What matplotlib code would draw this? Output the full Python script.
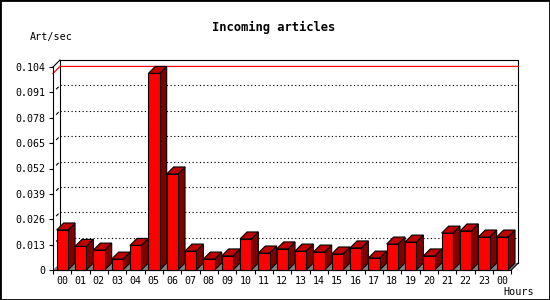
import numpy as np
import matplotlib
matplotlib.use("Agg")
import matplotlib.pyplot as plt
from matplotlib.patches import Polygon, Rectangle

# ── Data ────────────────────────────────────────────────────────────────────
hours = ["00", "01", "02", "03", "04", "05", "06", "07", "08", "09", "10", "11",
         "12", "13", "14", "15", "16", "17", "18", "19", "20", "21", "22", "23", "00"]
art_per_sec = [0.0205, 0.0121, 0.0102, 0.0056, 0.0126, 0.1007, 0.0492, 0.0097,
               0.0056, 0.0072, 0.0159, 0.0087, 0.0108, 0.0097, 0.0092, 0.0082,
               0.0113, 0.0061, 0.0133, 0.0143, 0.0072, 0.0189, 0.0200, 0.0169,
               0.0169]
yticks = [0, 0.013, 0.026, 0.039, 0.052, 0.065, 0.078, 0.091, 0.104]

# ── Layout (pixels) ─────────────────────────────────────────────────────────
W, H = 550, 300
X0, X1 = 53, 511.3          # front plane left/right
Y0, Y1 = 270, 67            # zero line / top value
DEPTH = 7                   # 3D depth in px
FONT = "DejaVu Sans Mono"

n = len(hours)
ymax = yticks[-1]
dx = DEPTH / ((X1 - X0) / n)
dy = DEPTH / (Y0 - Y1) * ymax

fig = plt.figure(figsize=(W / 100, H / 100), dpi=100)
fig.patch.set_facecolor("white")
ax = fig.add_axes([X0 / W, (H - Y0) / H, (X1 - X0) / W, (Y0 - Y1) / H])
ax.set_xlim(0, n)
ax.set_ylim(0, ymax)
ax.set_facecolor("none")

for s in ("top", "right"):
    ax.spines[s].set_visible(False)
for s in ("left", "bottom"):
    ax.spines[s].set_linewidth(0.8)
    ax.spines[s].set_zorder(6)

# ticks
ax.set_yticks(yticks)
ax.set_yticklabels(["0"] + [f"{v:.3f}" for v in yticks[1:]], fontfamily=FONT, fontsize=7.2)
ax.tick_params(axis="y", direction="out", length=3, width=0.8, pad=2.5)
ax.set_xticks(np.arange(n + 1))
ax.set_xticklabels([])
ax.set_xticks(np.arange(n) + 0.5, minor=True)
ax.set_xticklabels(hours, minor=True, fontfamily=FONT, fontsize=7.2)
ax.tick_params(axis="x", which="major", direction="out", length=3, width=0.8)
ax.tick_params(axis="x", which="minor", length=0, pad=4)

kw = dict(clip_on=False, color="black", linewidth=0.8)

# floor
ax.add_patch(Polygon([(0, 0), (n, 0), (n + dx, dy), (dx, dy)], closed=True,
                     facecolor="#808080", edgecolor="none", zorder=1, clip_on=False))

# back wall frame
ax.plot([dx, dx, n + dx, n + dx], [dy, ymax + dy, ymax + dy, dy], zorder=2, **kw)
ax.plot([0, dx], [ymax, ymax + dy], zorder=2, **kw)
ax.plot([n, n + dx], [0, dy], zorder=2, **kw)

# grid on back wall
for v in yticks[1:-1]:
    ax.plot([dx, n + dx], [v + dy, v + dy], clip_on=False, color="black",
            linewidth=0.8, linestyle=(0, (1.1, 2.2)), zorder=2)
    ax.plot([0.5 * dx, 0.75 * dx], [v + 0.5 * dy, v + 0.75 * dy], zorder=2, **kw)

# max line
vmax = max(art_per_sec)
ax.plot([0, dx, n + dx], [vmax, vmax + dy, vmax + dy], clip_on=False,
        color="red", linewidth=0.9, zorder=2)

# bars
off, bw = 0.2, 0.62
for i, v in enumerate(art_per_sec):
    xl = i + off
    xr = xl + bw
    side = Polygon([(xr, 0), (xr + dx, dy), (xr + dx, v + dy), (xr, v)], closed=True,
                   facecolor="#800000", edgecolor="black", linewidth=0.8, zorder=3,
                   clip_on=False)
    top = Polygon([(xl, v), (xr, v), (xr + dx, v + dy), (xl + dx, v + dy)], closed=True,
                  facecolor="#C00000", edgecolor="black", linewidth=0.8, zorder=3,
                  clip_on=False)
    front = Rectangle((xl, 0), bw, v, facecolor="#FF0000", edgecolor="black",
                      linewidth=0.8, zorder=4, clip_on=False)
    ax.add_patch(side)
    ax.add_patch(top)
    ax.add_patch(front)

# texts
fig.text(274 / W, 1 - 27 / H, "Incoming articles", ha="center", va="center",
         fontfamily=FONT, fontsize=8.7, fontweight="bold")
fig.text(30 / W, 1 - 37 / H, "Art/sec", ha="left", va="center",
         fontfamily=FONT, fontsize=7.3)
fig.text(503 / W, 1 - 292 / H, "Hours", ha="left", va="center",
         fontfamily=FONT, fontsize=7.3)

# outer border
fig.patches.append(Rectangle((0, 0), 1, 1, transform=fig.transFigure, fill=False,
                             edgecolor="black", linewidth=2, figure=fig))

fig.savefig("out.png", dpi=100)
plt.close("all")
